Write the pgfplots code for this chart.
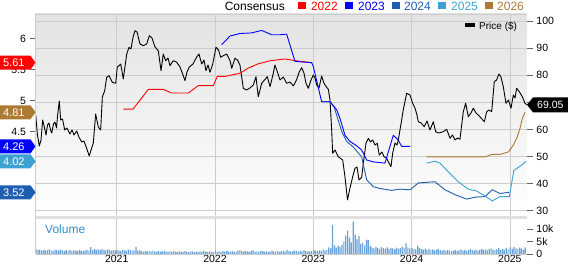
\documentclass[border=0pt]{standalone}
\usepackage{fontspec}
\setmainfont{Liberation Sans}
\usepackage{pgfplots}
\pgfplotsset{compat=1.18}
\usepackage{pgfplotstable}

\definecolor{c22}{RGB}{255,0,0}
\definecolor{c23}{RGB}{0,0,255}
\definecolor{c24}{RGB}{30,94,176}
\definecolor{c25}{RGB}{60,162,210}
\definecolor{c26}{RGB}{172,122,50}
\definecolor{gridc}{RGB}{204,204,204}
\definecolor{volc}{RGB}{105,162,214}
\definecolor{volt}{RGB}{50,140,205}
\definecolor{tickc}{RGB}{100,100,100}

\pgfplotstableread[row sep=\\]{
x y\\
2020.176 65.31\\ 2020.194 57.93\\ 2020.213 53.87\\ 2020.230 56.09\\ 2020.247 63.47\\
2020.266 60.52\\ 2020.281 57.93\\ 2020.296 61.62\\ 2020.311 62.36\\ 2020.327 59.78\\
2020.339 58.67\\ 2020.357 61.99\\ 2020.372 62.73\\ 2020.388 60.52\\ 2020.398 64.94\\
2020.416 70.48\\ 2020.430 63.47\\ 2020.449 63.84\\ 2020.471 59.78\\ 2020.494 60.52\\
2020.525 58.30\\ 2020.545 59.78\\ 2020.566 57.93\\ 2020.593 59.41\\ 2020.616 57.20\\
2020.644 55.35\\ 2020.667 55.72\\ 2020.693 53.14\\ 2020.721 50.18\\ 2020.739 52.40\\
2020.762 54.98\\ 2020.786 65.68\\ 2020.813 60.89\\ 2020.837 59.78\\ 2020.854 71.96\\
2020.878 74.28\\ 2020.898 79.23\\ 2020.922 79.82\\ 2020.955 77.38\\ 2020.990 77.01\\
2021.006 82.92\\ 2021.041 84.13\\ 2021.067 78.60\\ 2021.102 87.82\\ 2021.125 90.30\\
2021.145 89.67\\ 2021.166 93.99\\ 2021.186 96.42\\ 2021.207 95.94\\ 2021.237 91.51\\
2021.271 90.89\\ 2021.305 91.51\\ 2021.332 94.58\\ 2021.359 93.73\\ 2021.390 90.41\\
2021.423 89.04\\ 2021.451 81.66\\ 2021.474 87.82\\ 2021.498 85.35\\ 2021.522 86.35\\
2021.542 83.51\\ 2021.576 85.35\\ 2021.608 84.87\\ 2021.644 83.03\\ 2021.671 80.44\\
2021.695 77.97\\ 2021.715 81.18\\ 2021.739 83.03\\ 2021.776 84.13\\ 2021.814 86.72\\
2021.837 87.82\\ 2021.865 84.13\\ 2021.888 85.61\\ 2021.908 81.66\\ 2021.929 83.76\\
2021.949 81.07\\ 2021.977 84.13\\ 2022.010 90.30\\ 2022.036 89.30\\ 2022.058 86.61\\
2022.084 87.20\\ 2022.119 87.82\\ 2022.153 85.35\\ 2022.170 82.55\\ 2022.203 86.24\\
2022.229 85.61\\ 2022.254 83.76\\ 2022.288 75.17\\ 2022.322 74.54\\ 2022.356 75.28\\
2022.390 76.38\\ 2022.417 79.45\\ 2022.440 72.07\\ 2022.475 77.01\\ 2022.504 78.23\\
2022.532 79.45\\ 2022.560 75.76\\ 2022.593 80.70\\ 2022.610 83.76\\ 2022.634 81.29\\
2022.661 78.23\\ 2022.695 79.34\\ 2022.729 77.01\\ 2022.763 77.49\\ 2022.797 76.01\\
2022.829 78.23\\ 2022.858 81.29\\ 2022.882 82.77\\ 2022.905 80.81\\ 2022.926 77.01\\
2022.949 75.17\\ 2022.977 78.23\\ 2023.000 80.07\\ 2023.017 78.97\\ 2023.035 76.38\\
2023.058 75.28\\ 2023.085 79.70\\ 2023.109 77.01\\ 2023.136 75.54\\ 2023.153 74.80\\
2023.170 70.85\\ 2023.187 59.78\\ 2023.197 51.18\\ 2023.221 52.40\\ 2023.254 49.93\\
2023.299 48.71\\ 2023.322 42.55\\ 2023.348 33.95\\ 2023.373 38.27\\ 2023.401 42.55\\
2023.424 45.65\\ 2023.445 46.13\\ 2023.465 41.33\\ 2023.492 42.25\\ 2023.509 47.49\\
2023.536 54.87\\ 2023.560 56.72\\ 2023.582 55.35\\ 2023.604 56.09\\ 2023.628 54.24\\
2023.651 54.87\\ 2023.671 50.55\\ 2023.699 51.66\\ 2023.719 49.93\\ 2023.745 49.45\\
2023.763 48.08\\ 2023.790 46.24\\ 2023.808 51.29\\ 2023.831 54.98\\ 2023.852 54.24\\
2023.865 56.09\\ 2023.899 63.47\\ 2023.915 67.16\\ 2023.950 73.32\\ 2023.984 72.69\\
2024.011 69.63\\ 2024.035 67.79\\ 2024.055 65.31\\ 2024.068 62.84\\ 2024.096 62.36\\
2024.129 61.00\\ 2024.157 63.10\\ 2024.187 59.78\\ 2024.221 62.84\\ 2024.245 59.15\\
2024.274 58.67\\ 2024.322 59.15\\ 2024.357 60.04\\ 2024.391 56.72\\ 2024.416 57.93\\
2024.442 56.09\\ 2024.467 56.83\\ 2024.492 56.35\\ 2024.526 66.53\\ 2024.550 69.63\\
2024.577 64.69\\ 2024.604 66.05\\ 2024.628 67.79\\ 2024.655 66.05\\ 2024.679 65.31\\
2024.706 64.21\\ 2024.740 62.84\\ 2024.764 66.53\\ 2024.787 67.16\\ 2024.815 66.53\\
2024.841 77.60\\ 2024.864 78.23\\ 2024.889 80.44\\ 2024.909 79.34\\ 2024.933 75.76\\
2024.960 69.63\\ 2024.986 70.85\\ 2025.011 67.79\\ 2025.035 72.69\\ 2025.052 71.59\\
2025.069 75.17\\ 2025.098 73.80\\ 2025.126 72.07\\ 2025.154 69.63\\ 2025.174 69.05\\
}\price

\pgfplotstableread[row sep=\\]{
x v\\
2020.180 1.9\\ 2020.199 1.5\\ 2020.218 1.7\\ 2020.238 1.4\\ 2020.257 1.6\\ 2020.276 1.3\\ 2020.295 1.5\\ 2020.314 1.8\\ 2020.333 1.4\\ 2020.353 1.2\\
2020.372 1.6\\ 2020.391 1.5\\ 2020.410 1.3\\ 2020.429 1.7\\ 2020.448 1.4\\ 2020.468 1.2\\ 2020.487 1.5\\ 2020.506 1.3\\ 2020.525 1.6\\ 2020.544 1.1\\
2020.563 1.4\\ 2020.583 1.3\\ 2020.602 1.2\\ 2020.621 1.5\\ 2020.640 1.3\\ 2020.659 1.1\\ 2020.678 1.4\\ 2020.698 1.6\\ 2020.717 1.3\\ 2020.736 2.7\\
2020.755 1.5\\ 2020.774 1.9\\ 2020.793 1.6\\ 2020.813 1.8\\ 2020.832 1.5\\ 2020.851 2.0\\ 2020.870 1.6\\ 2020.889 1.4\\ 2020.908 1.8\\ 2020.928 1.5\\
2020.947 1.3\\ 2020.966 1.6\\ 2020.985 1.4\\
2021.004 1.5\\ 2021.023 1.3\\ 2021.042 1.2\\ 2021.062 1.6\\ 2021.081 1.4\\ 2021.100 1.2\\ 2021.119 1.7\\ 2021.138 1.5\\ 2021.157 1.3\\ 2021.177 1.4\\
2021.196 2.8\\ 2021.215 1.3\\ 2021.234 1.4\\ 2021.253 1.1\\ 2021.272 0.9\\ 2021.292 1.2\\ 2021.311 1.0\\ 2021.330 1.1\\ 2021.349 0.9\\ 2021.368 1.3\\
2021.387 1.0\\ 2021.407 0.8\\ 2021.426 1.1\\ 2021.445 0.9\\ 2021.464 1.0\\ 2021.483 1.2\\ 2021.502 0.8\\ 2021.522 0.9\\ 2021.541 1.0\\ 2021.560 0.8\\
2021.579 1.1\\ 2021.598 0.9\\ 2021.617 0.7\\ 2021.637 1.0\\ 2021.656 0.8\\ 2021.675 0.9\\ 2021.694 1.1\\ 2021.713 0.8\\ 2021.732 0.7\\ 2021.752 0.9\\
2021.771 1.0\\ 2021.790 0.8\\ 2021.809 0.9\\ 2021.828 0.7\\ 2021.847 1.0\\ 2021.867 0.8\\ 2021.886 1.2\\ 2021.905 0.9\\ 2021.924 0.8\\ 2021.943 1.0\\
2021.962 0.9\\ 2021.982 0.8\\
2022.004 1.4\\ 2022.023 0.9\\ 2022.042 1.0\\ 2022.062 0.8\\ 2022.081 1.1\\ 2022.100 0.9\\ 2022.119 1.2\\ 2022.138 1.0\\ 2022.157 0.9\\ 2022.177 1.1\\
2022.196 0.8\\ 2022.215 1.0\\ 2022.234 1.3\\ 2022.253 1.5\\ 2022.272 1.1\\ 2022.292 0.9\\ 2022.311 1.2\\ 2022.330 1.0\\ 2022.349 0.8\\ 2022.368 1.1\\
2022.387 1.4\\ 2022.407 0.9\\ 2022.426 1.0\\ 2022.445 0.8\\ 2022.464 1.2\\ 2022.483 1.1\\ 2022.502 0.9\\ 2022.522 1.0\\ 2022.541 0.8\\ 2022.560 0.9\\
2022.579 1.3\\ 2022.598 1.0\\ 2022.617 0.9\\ 2022.637 1.1\\ 2022.656 0.8\\ 2022.675 1.0\\ 2022.694 1.2\\ 2022.713 0.9\\ 2022.732 1.6\\ 2022.752 1.1\\
2022.771 0.9\\ 2022.790 1.0\\ 2022.809 1.3\\ 2022.828 1.1\\ 2022.847 0.9\\ 2022.867 1.2\\ 2022.886 1.0\\ 2022.905 1.5\\ 2022.924 1.1\\ 2022.943 0.9\\
2022.962 1.0\\ 2022.982 1.2\\
2023.004 1.5\\ 2023.023 1.3\\ 2023.042 1.1\\ 2023.062 1.4\\ 2023.081 1.2\\ 2023.100 1.8\\ 2023.119 1.4\\ 2023.138 1.6\\ 2023.157 2.6\\ 2023.177 2.2\\
2023.196 11.6\\ 2023.215 3.4\\ 2023.234 2.5\\ 2023.253 3.3\\ 2023.272 2.8\\ 2023.292 3.6\\ 2023.311 5.0\\ 2023.330 7.3\\ 2023.349 9.3\\ 2023.368 6.5\\
2023.387 4.6\\ 2023.407 12.9\\ 2023.426 7.7\\ 2023.445 5.8\\ 2023.464 7.2\\ 2023.483 4.0\\ 2023.502 4.5\\ 2023.522 3.4\\ 2023.541 5.7\\ 2023.560 5.5\\
2023.579 3.2\\ 2023.598 2.6\\ 2023.617 2.2\\ 2023.637 2.9\\ 2023.656 2.4\\ 2023.675 2.0\\ 2023.694 2.7\\ 2023.713 2.3\\ 2023.732 2.1\\ 2023.752 2.6\\
2023.771 2.0\\ 2023.790 2.4\\ 2023.809 2.2\\ 2023.828 1.8\\ 2023.847 2.5\\ 2023.867 2.1\\ 2023.886 2.3\\ 2023.905 2.9\\ 2023.924 2.4\\ 2023.943 4.2\\
2023.962 2.6\\ 2023.982 2.2\\
2024.004 2.3\\ 2024.023 2.0\\ 2024.042 1.8\\ 2024.062 3.3\\ 2024.081 2.4\\ 2024.100 2.0\\ 2024.119 1.7\\ 2024.138 2.1\\ 2024.157 1.6\\ 2024.177 1.9\\
2024.196 1.5\\ 2024.215 1.8\\ 2024.234 1.4\\ 2024.253 1.7\\ 2024.272 2.0\\ 2024.292 1.5\\ 2024.311 1.3\\ 2024.330 1.6\\ 2024.349 1.2\\ 2024.368 1.5\\
2024.387 1.4\\ 2024.407 1.1\\ 2024.426 1.3\\ 2024.445 1.6\\ 2024.464 1.2\\ 2024.483 1.4\\ 2024.502 1.8\\ 2024.522 1.3\\ 2024.541 1.5\\ 2024.560 1.2\\
2024.579 1.6\\ 2024.598 2.1\\ 2024.617 1.5\\ 2024.637 1.4\\ 2024.656 1.7\\ 2024.675 1.3\\ 2024.694 1.6\\ 2024.713 2.0\\ 2024.732 1.5\\ 2024.752 1.8\\
2024.771 1.4\\ 2024.790 1.9\\ 2024.809 2.2\\ 2024.828 1.7\\ 2024.847 1.5\\ 2024.867 1.8\\ 2024.886 2.3\\ 2024.905 1.6\\ 2024.924 2.0\\ 2024.943 1.7\\
2024.962 2.4\\ 2024.982 1.9\\
2025.004 2.6\\ 2025.023 2.0\\ 2025.042 2.8\\ 2025.062 2.2\\ 2025.081 1.9\\ 2025.100 2.5\\ 2025.119 2.1\\ 2025.138 1.7\\ 2025.157 2.6\\
}\volume

\newcommand\tagL[3]{%
  \fill[#1] (#2) -- ++(-5pt,7pt) -- ++(-30.5pt,0pt) -- ++(0pt,-14pt) -- ++(30.5pt,0pt) -- cycle;
  \node[anchor=west, text=white, inner sep=0pt, font=\fontsize{11}{12}\selectfont] at ([xshift=-32.5pt]#2) {#3};}

\begin{document}
\begin{tikzpicture}
\path[use as bounding box] (0pt,0pt) rectangle (568pt,264pt);

% ---------- price axis (right) ----------
\begin{axis}[
  at={(35.5pt,47.5pt)}, anchor=south west, scale only axis,
  width=491.5pt, height=202.5pt,
  xmin=2020.174, xmax=2025.174, ymin=27.86, ymax=102.58,
  xtick={2021,2022,2023,2024,2025}, xticklabels={},
  ytick={30,40,50,60,70,80,90,100},
  ytick pos=right, tick align=outside, major tick length=6pt,
  x tick style={draw=none},
  y tick style={tickc, line width=0.6pt},
  grid=major, major grid style={gridc, line width=0.7pt},
  axis line style={draw=none},
  axis background/.style={top color=black!11, middle color=black!4, bottom color=white},
  yticklabel style={font=\fontsize{10.5}{12}\selectfont, text=black},
  /pgf/number format/assume math mode=true,
]
\addplot[black, line width=0.9pt, line join=round] table[x=x,y=y]{\price};
\coordinate (pend) at (axis cs:2025.174,69.05);
\end{axis}

% ---------- consensus EPS axis (left) ----------
\begin{axis}[
  at={(35.5pt,47.5pt)}, anchor=south west, scale only axis,
  width=491.5pt, height=202.5pt,
  xmin=2020.174, xmax=2025.174, ymin=3.129, ymax=6.395,
  hide x axis, axis y line*=left, y axis line style={draw=none},
  ytick={3.5,4,4.5,5,5.5,6},
  tick align=outside, major tick length=6pt,
  y tick style={tickc, line width=0.6pt},
  yticklabel style={font=\fontsize{10.5}{12}\selectfont, text=black},
  /pgf/number format/assume math mode=true,
]
\addplot[c22, line width=0.9pt, line join=round] coordinates {
(2021.067,4.86) (2021.166,4.86) (2021.322,5.18) (2021.474,5.18) (2021.560,5.12)
(2021.728,5.12) (2021.830,5.24) (2021.983,5.24) (2022.023,5.39) (2022.110,5.39)
(2022.254,5.44) (2022.335,5.52) (2022.437,5.59) (2022.560,5.64) (2022.712,5.67)
(2022.824,5.64) (2022.987,5.61)};
\addplot[c24, line width=0.9pt, line join=round] coordinates {
(2023.085,4.98) (2023.170,4.98) (2023.211,4.90) (2023.289,4.50) (2023.339,4.34)
(2023.407,4.25) (2023.492,4.09) (2023.543,3.72) (2023.610,3.61) (2023.678,3.58)
(2023.798,3.55) (2023.882,3.57) (2023.984,3.56) (2024.068,3.67) (2024.238,3.69)
(2024.340,3.56) (2024.442,3.48) (2024.561,3.41) (2024.645,3.44) (2024.747,3.45)
(2024.821,3.56) (2024.899,3.50) (2024.994,3.52)};
\addplot[c23, line width=0.9pt, line join=round] coordinates {
(2022.068,5.90) (2022.153,6.04) (2022.254,6.08) (2022.373,6.09) (2022.475,6.13)
(2022.577,6.06) (2022.661,6.06) (2022.729,6.07) (2022.814,5.63) (2022.984,5.61)
(2023.000,5.55) (2023.085,4.98) (2023.170,4.98) (2023.238,4.85) (2023.272,4.71)
(2023.322,4.44) (2023.373,4.34) (2023.441,4.27) (2023.492,4.20) (2023.543,4.04)
(2023.610,4.01) (2023.729,3.99) (2023.814,4.44) (2023.865,4.36) (2023.899,4.26)
(2023.984,4.26)};
\addplot[c25, line width=0.9pt, line join=round] coordinates {
(2024.154,3.99) (2024.238,4.02) (2024.289,3.99) (2024.373,3.85) (2024.475,3.69)
(2024.577,3.57) (2024.662,3.54) (2024.747,3.46) (2024.821,3.38) (2024.899,3.45)
(2024.994,3.45) (2025.040,3.87) (2025.120,3.96) (2025.164,4.02)};
\addplot[c26, line width=0.9pt, line join=round] coordinates {
(2024.154,4.09) (2024.747,4.09) (2024.815,4.13) (2024.899,4.13) (2024.984,4.17)
(2025.035,4.28) (2025.069,4.39) (2025.103,4.55) (2025.126,4.71) (2025.154,4.81)};
\coordinate (t1) at (axis cs:2020.174,5.61);
\coordinate (t2) at (axis cs:2020.174,4.81);
\coordinate (t3) at (axis cs:2020.174,4.26);
\coordinate (t4) at (axis cs:2020.174,4.02);
\coordinate (t5) at (axis cs:2020.174,3.52);
\end{axis}

% ---------- volume axis ----------
\begin{axis}[
  at={(35.5pt,10pt)}, anchor=south west, scale only axis,
  width=491.5pt, height=34.5pt,
  xmin=2020.174, xmax=2025.174, ymin=0, ymax=13.8,
  xtick={2021,2022,2023,2024,2025}, xticklabels={2021,2022,2023,2024,2025},
  ytick={0,5,10}, yticklabels={0,5k,10k},
  ytick pos=right, xtick pos=bottom, tick align=outside, major tick length=6pt,
  x tick style={draw=none},
  y tick style={tickc, line width=0.6pt},
  xmajorgrids, major grid style={gridc, line width=0.7pt},
  axis line style={draw=none},
  ticklabel style={font=\fontsize{10.5}{12}\selectfont, text=black},
  xticklabel style={yshift=8.3pt},
]
\addplot[ybar, bar width=1.2pt, fill=volc, draw=none] table[x=x,y=v]{\volume};
\end{axis}

% frame pieces
\fill[black!12] (35.5pt,44.5pt) rectangle (527pt,47.5pt);
\draw[gridc, line width=0.8pt] (35.5pt,10pt) -- (35.5pt,250pt) -- (527pt,250pt);
\draw[gridc, line width=0.8pt] (35.5pt,10pt) -- (527pt,10pt);

% value tags
\tagL{c22}{t1}{5.61}
\tagL{c26}{t2}{4.81}
\tagL{c23}{t3}{4.26}
\tagL{c25}{t4}{4.02}
\tagL{c24}{t5}{3.52}
\fill[black] (pend) -- ++(6pt,7.5pt) -- ++(35pt,0pt) -- ++(0pt,-15pt) -- ++(-35pt,0pt) -- cycle;
\node[anchor=west, text=white, inner sep=0pt, font=\fontsize{10.5}{12}\selectfont] at ([xshift=10pt]pend) {69.05};

% legends
\begin{scope}[every node/.style={inner sep=0pt, anchor=base west, font=\fontsize{12}{14}\selectfont}]
\node at (224.6pt,253.5pt) {Consensus};
\fill[c22] (297.8pt,254.5pt) rectangle ++(8pt,7.5pt); \node[text=c22] at (310.8pt,253.5pt) {2022};
\fill[c23] (344.9pt,254.5pt) rectangle ++(8pt,7.5pt); \node[text=c23] at (357.9pt,253.5pt) {2023};
\fill[c24] (392.0pt,254.5pt) rectangle ++(8pt,7.5pt); \node[text=c24] at (403.9pt,253.5pt) {2024};
\fill[c25] (438.3pt,254.5pt) rectangle ++(8pt,7.5pt); \node[text=c25] at (451.0pt,253.5pt) {2025};
\fill[c26] (485.4pt,254.5pt) rectangle ++(8pt,7.5pt); \node[text=c26] at (497.0pt,253.5pt) {2026};
\node[text=volt] at (45pt,30.7pt) {Volume};
\end{scope}
\fill[black] (465pt,236.7pt) rectangle (475pt,240.7pt);
\node[inner sep=0pt, anchor=base west, font=\fontsize{10}{12}\selectfont] at (479pt,234.5pt) {Price (\$)};
\end{tikzpicture}
\end{document}
